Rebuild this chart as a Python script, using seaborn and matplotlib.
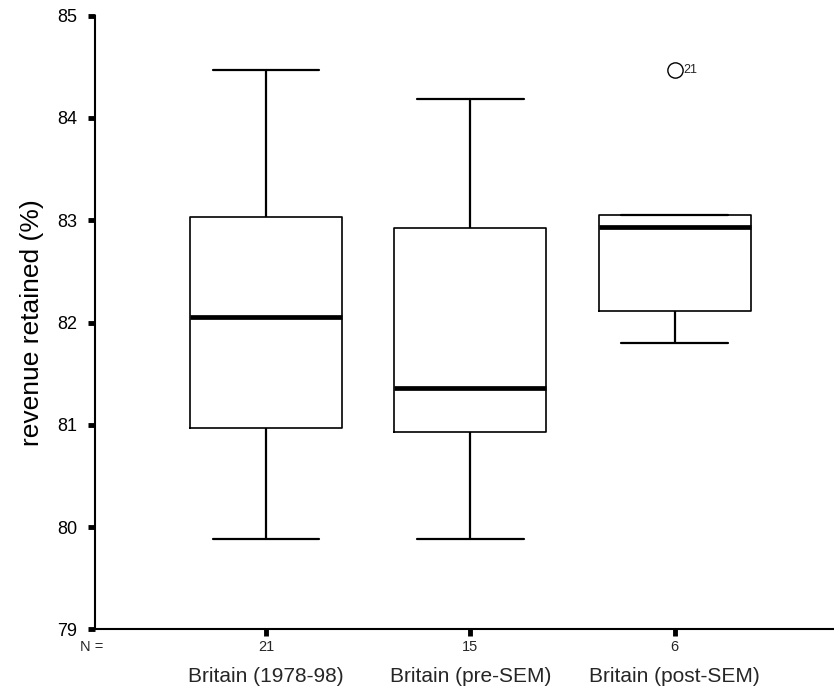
import numpy as np
import pandas as pd
import matplotlib
matplotlib.use("Agg")
import matplotlib.pyplot as plt
import seaborn as sns
from matplotlib.transforms import blended_transform_factory

# Five-number summaries of revenue retained (%) per period
groups = ["Britain (1978-98)", "Britain (pre-SEM)", "Britain (post-SEM)"]
n_cases = ["21", "15", "6"]
smallest = [79.88, 79.88, 81.80]
lower_quartile = [80.97, 80.93, 82.11]
median = [82.05, 81.36, 82.93]
upper_quartile = [83.03, 82.92, 83.05]
largest = [84.47, 84.19, 84.47]   # post-SEM maximum is case 21, beyond 1.5 IQR
outlier_case = "21"
y_ticks = [79, 80, 81, 82, 83, 84, 85]

rows = []
for g, lo, a, m, b, hi in zip(groups, smallest, lower_quartile, median,
                              upper_quartile, largest):
    for v in (lo, a, m, b, hi):
        rows.append({"period": g, "retained": v})
df = pd.DataFrame(rows)

sns.set_theme(style="white")
plt.rcParams["font.family"] = ["Liberation Sans", "DejaVu Sans"]

W, H = 834, 693
fig = plt.figure(figsize=(W / 100, H / 100), dpi=100)
ax_left, ax_bottom, ax_top = 95, 629.3, 15.7
ax = fig.add_axes([ax_left / W, 1 - ax_bottom / H, (W - ax_left) / W,
                   (ax_bottom - ax_top) / H])

sns.boxplot(
    data=df, x="period", y="retained", order=groups, ax=ax,
    width=0.744, fill=False, color="black", linewidth=1.2, whis=1.5,
    capwidths=0.522,
    boxprops={"linewidth": 1.2},
    whiskerprops={"linewidth": 1.6},
    capprops={"linewidth": 1.6},
    medianprops={"linewidth": 3.4, "color": "black"},
    flierprops={"marker": "o", "markersize": 11, "markerfacecolor": "none",
                "markeredgecolor": "black", "markeredgewidth": 1.0},
)

# Case number beside the outlier
ax.annotate(outlier_case, xy=(2, largest[2]), xytext=(6.5, 0),
            textcoords="offset points", ha="left", va="center", fontsize=9)

ax.set_xlim(-0.837, 2.78)
ax.set_ylim(79, 85)
ax.set_yticks(y_ticks)
ax.set_yticklabels([str(t) for t in y_ticks], fontsize=13)
ax.set_xticks(range(len(groups)))
ax.set_xticklabels([])
ax.tick_params(axis="both", direction="out", length=5, width=3.5,
               color="black", labelcolor="black", left=True, bottom=True)
ax.tick_params(axis="y", pad=8)

for side in ("top", "right"):
    ax.spines[side].set_visible(False)
for side in ("left", "bottom"):
    ax.spines[side].set_color("black")
    ax.spines[side].set_linewidth(1.5)

ax.set_xlabel("")
ax.set_ylabel("revenue retained (%)", fontsize=19, color="black")
ax.yaxis.set_label_coords(-0.069, 0.5)

# Case counts and period names beneath the axis
tr = blended_transform_factory(ax.transData, fig.transFigure)
for i, (g, n) in enumerate(zip(groups, n_cases)):
    ax.text(i, 1 - 647 / H, n, transform=tr, ha="center", va="center",
            fontsize=10.5)
    ax.text(i, 1 - 677 / H, g, transform=tr, ha="center", va="center",
            fontsize=15)
fig.text(92 / W, 1 - 647 / H, "N =", ha="center", va="center", fontsize=10.5)

fig.savefig("out.png", dpi=100, facecolor="white")
